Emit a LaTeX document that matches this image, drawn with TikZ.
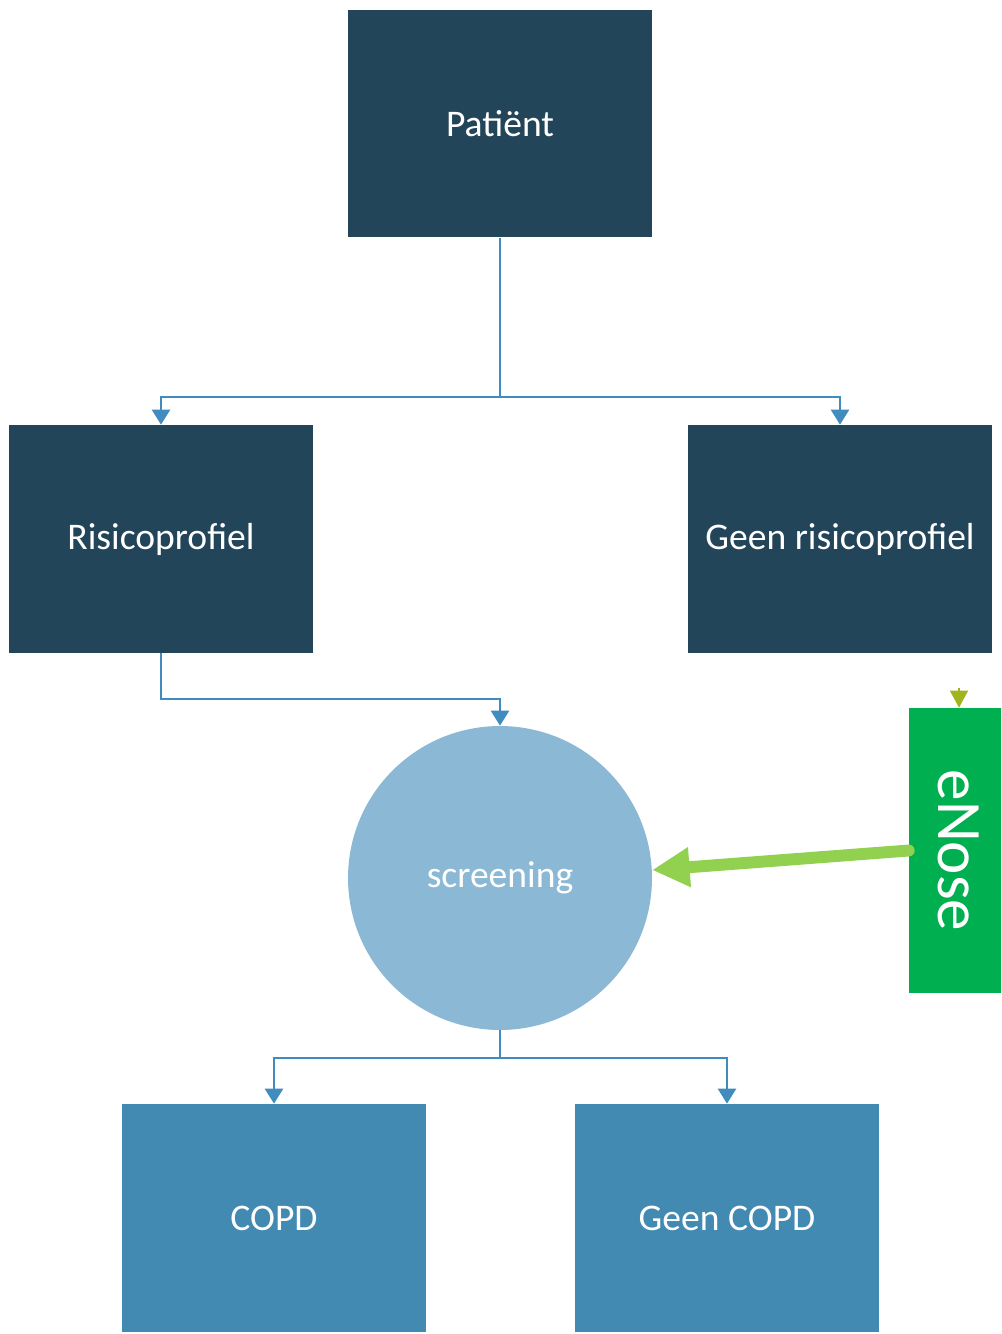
\documentclass[tikz,border=0pt]{standalone}
\usepackage{fontspec}
\setmainfont{Carlito}
\usepackage{tikz}
\usetikzlibrary{positioning}
\usetikzlibrary{arrows.meta}
\usetikzlibrary{shapes}

\definecolor{navy}{RGB}{35,69,89}
\definecolor{lightblue}{RGB}{139,185,213}
\definecolor{midblue}{RGB}{66,138,178}
\definecolor{linkblue}{RGB}{65,140,190}
\definecolor{enosegreen}{RGB}{0,176,80}
\definecolor{arrowgreen}{RGB}{146,208,80}
\definecolor{olive}{RGB}{160,180,30}

\tikzstyle{darkbox} = [rectangle, fill=navy, text=white, minimum width=6.08cm, minimum height=4.56cm, inner sep=0pt, font=\fontsize{21.4}{25}\selectfont]
\tikzstyle{bluebox} = [darkbox, fill=midblue]
\tikzstyle{screen} = [circle, fill=lightblue, text=white, minimum size=6.08cm, inner sep=0pt, font=\fontsize{21.4}{25}\selectfont]
\tikzstyle{enosebox} = [rectangle, fill=enosegreen, text=white, minimum width=2cm, minimum height=5.7cm, inner sep=0pt, font=\fontsize{36}{42}\selectfont]
\tikzstyle{link} = [draw=linkblue, line width=1.4pt, -{Triangle[length=0.3cm, width=0.36cm]}]

\begin{document}
\begin{tikzpicture}[x=0.02cm, y=-0.02cm]

			\useasboundingbox (0,0) rectangle (1001,1334);
			\clip (0,0) rectangle (1001,1334);

			% boxes
			\node[darkbox] (patient) at (500,123.5) {Patiënt};
			\node[darkbox] (risk) at (161,539) {Risicoprofiel};
			\node[darkbox] (norisk) at (840,539) {Geen risicoprofiel};
			\node[screen] (screening) at (500,878) {screening};
			\node[bluebox] (copd) at (274,1218) {COPD};
			\node[bluebox] (nocopd) at (727,1218) {Geen COPD};
			\node[enosebox] (enose) at (959,850.5) {\rotatebox{-90}{eNose}};

			% connectors
			\def\a{397}; \def\b{699}; \def\c{1058};
			\path [link] (patient.south) |- (500,\a) -| (risk.north);
			\path [link] (patient.south) |- (500,\a) -| (norisk.north);
			\path [link] (risk.south) |- (500,\b) -| (screening.north);
			\path [link] (screening.south) |- (500,\c) -| (copd.north);
			\path [link] (screening.south) |- (500,\c) -| (nocopd.north);

			\draw[arrowgreen, line width=6.8pt, line cap=round, -{Triangle[length=0.75cm, width=0.75cm]}] (enose.west) -- (screening.3);

			\coordinate (entop) at (959,688);
			\draw[olive, line width=0.8pt, -{Triangle[length=0.34cm, width=0.36cm]}] (entop) -- (enose.north);

\end{tikzpicture}
\end{document}
